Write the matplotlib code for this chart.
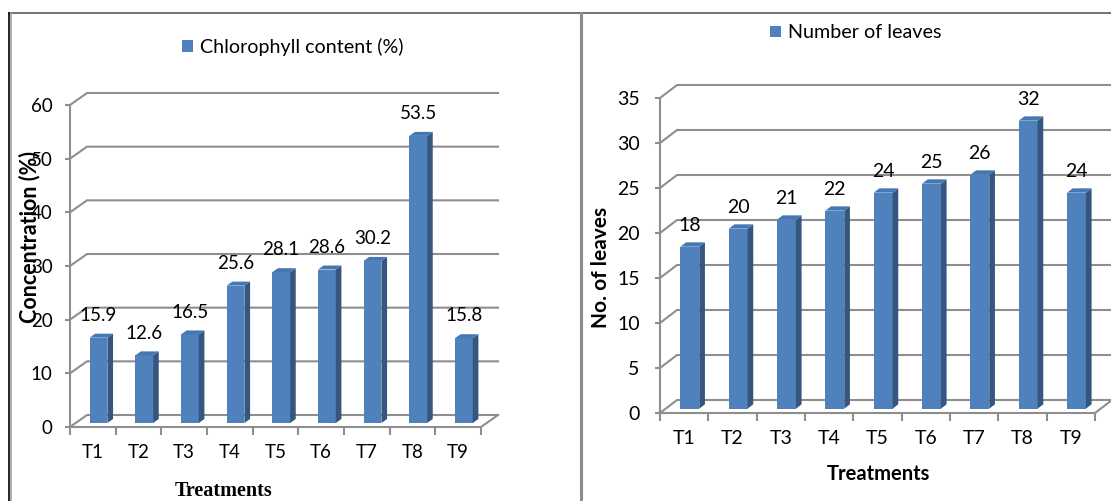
import matplotlib
matplotlib.use('Agg')
import matplotlib.pyplot as plt
from matplotlib.patches import Polygon, Rectangle

plt.rcParams['font.family'] = ['Lato', 'DejaVu Sans']

treatments = ['T1', 'T2', 'T3', 'T4', 'T5', 'T6', 'T7', 'T8', 'T9']
chlorophyll = [15.9, 12.6, 16.5, 25.6, 28.1, 28.6, 30.2, 53.5, 15.8]
leaves = [18, 20, 21, 22, 24, 25, 26, 32, 24]

W, H = 1111, 501
front_col = '#4F81BD'
side_col = '#34567F'
top_col = '#4677B3'
grid_col = '#8E8E8E'

fig = plt.figure(figsize=(W / 100, H / 100), dpi=100)


def px_axes(x0, ytop, x1, ybot):
    return fig.add_axes([x0 / W, 1 - ybot / H, (x1 - x0) / W, (ybot - ytop) / H])


def draw_panel(ax, values, ymax, ystep, depth_px, box_px, label_off, ypad, fs):
    n = len(values)
    xmin, xmax = -0.5, n - 0.5
    ax.set_xlim(xmin, xmax)
    ax.set_ylim(0, ymax)
    # pixel -> data unit conversion
    ux = (xmax - xmin) / box_px[0]
    uy = ymax / box_px[1]
    ddx, ddy = depth_px[0] * ux, depth_px[1] * uy

    # back wall / floor lines
    for v in range(0, ymax + 1, ystep):
        ax.plot([xmin, xmin + ddx, xmax + ddx], [v, v + ddy, v + ddy],
                color=grid_col, lw=1.5, clip_on=False, zorder=1)
    ax.plot([xmax, xmax + ddx], [0, ddy], color=grid_col, lw=1.5, clip_on=False, zorder=1)

    # 3d-ish bars
    w = 0.39
    sx, sy = ddx / 3, ddy / 3
    for i, v in enumerate(values):
        xl = i + sx - w / 2
        xr = xl + w
        ax.add_patch(Rectangle((xl, sy), w, v, fc=front_col, ec='none', zorder=3))
        ax.add_patch(Polygon([(xr, sy), (xr, sy + v), (xr + sx, sy + v + sy), (xr + sx, sy + sy)],
                             closed=True, fc=side_col, ec='none', zorder=3))
        ax.add_patch(Polygon([(xl, sy + v), (xr, sy + v), (xr + sx, sy + v + sy), (xl + sx, sy + v + sy)],
                             closed=True, fc=top_col, ec='none', zorder=3))
        ax.annotate(str(v), xy=(i + sx, sy + v), xytext=(0, label_off), textcoords='offset points',
                    ha='center', va='center', fontsize=fs, color='black')

    for s in ['top', 'right']:
        ax.spines[s].set_visible(False)
    for s in ['left', 'bottom']:
        ax.spines[s].set_color(grid_col)
        ax.spines[s].set_linewidth(1.5)

    ax.set_yticks(range(0, ymax + 1, ystep))
    ax.tick_params(axis='y', direction='out', length=3.6, width=1.5, color=grid_col,
                   labelsize=fs, pad=ypad)
    ax.set_xticks([k - 0.5 for k in range(n + 1)])
    ax.set_xticklabels([])
    ax.set_xticks(range(n), minor=True)
    ax.set_xticklabels(treatments, minor=True)
    ax.tick_params(axis='x', which='major', direction='out', length=5.8, width=1.5, color=grid_col)
    ax.tick_params(axis='x', which='minor', length=0, labelsize=fs, pad=12)
    ax.patch.set_alpha(0)


# left panel
ax1 = px_axes(70, 105, 481, 427)
draw_panel(ax1, chlorophyll, 60, 10, (17, 12), (411, 322), 16, 9, 13.5)
# right panel
ax2 = px_axes(660, 98, 1095, 413)
draw_panel(ax2, leaves, 35, 5, (17, 13), (435, 315), 15, 11, 14)

# legends
for txt, cx, cy, fs in [('Chlorophyll content (%)', 293, 47, 14.1), ('Number of leaves', 856, 33, 14.2)]:
    fig.legend(handles=[Rectangle((0, 0), 1, 1, fc=front_col)], labels=[txt], loc='center',
               bbox_to_anchor=(cx / W, 1 - cy / H), frameon=False, fontsize=fs,
               handlelength=0.55, handleheight=0.55, handletextpad=0.35)

# axis titles
fig.text(30 / W, 1 - 237 / H, 'Concentration (%)', rotation=90, ha='center', va='center',
         fontsize=15.5, fontweight='bold')
fig.text(224 / W, 1 - 491 / H, 'Treatments', ha='center', va='center', fontsize=14.5,
         fontweight='bold', family='Liberation Serif')
fig.text(601 / W, 1 - 267 / H, 'No. of leaves', rotation=90, ha='center', va='center',
         fontsize=15, fontweight='bold')
fig.text(878 / W, 1 - 474 / H, 'Treatments', ha='center', va='center', fontsize=14.5,
         fontweight='bold')

# chart frames
fig.add_artist(plt.Line2D([9 / W, 1], [1 - 12.5 / H] * 2, color='#5a5a5a', lw=1.2, transform=fig.transFigure))
fig.add_artist(plt.Line2D([8.5 / W] * 2, [0, 1 - 12.5 / H], color='black', lw=1.2, transform=fig.transFigure))
fig.add_artist(plt.Line2D([10.8 / W] * 2, [0, 1 - 13 / H], color='#a0a0a0', lw=1.2, transform=fig.transFigure))
fig.add_artist(plt.Line2D([580.5 / W] * 2, [0, 1 - 13 / H], color='#8c8c8c', lw=2.2, transform=fig.transFigure))

fig.savefig('out.png', dpi=100)
